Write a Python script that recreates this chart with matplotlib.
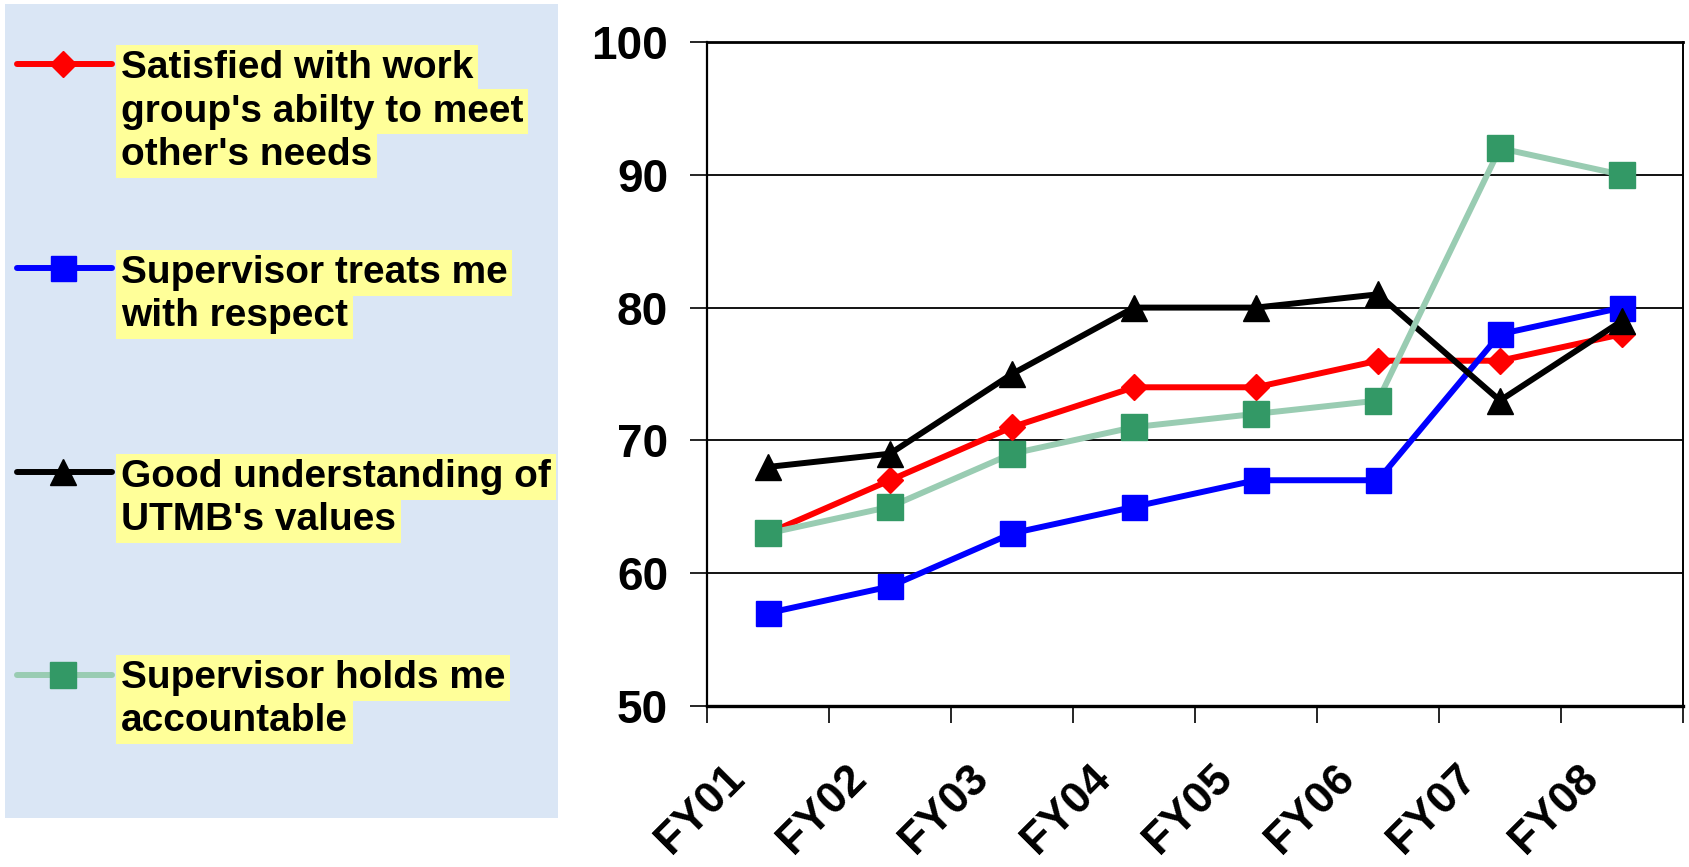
import matplotlib
matplotlib.use("Agg")
import matplotlib.pyplot as plt
from matplotlib.patches import Rectangle
from matplotlib.transforms import ScaledTranslation

plt.rcParams['font.family'] = ['Liberation Sans', 'DejaVu Sans']
plt.rcParams['font.weight'] = 'bold'

# data
years = ["FY01", "FY02", "FY03", "FY04", "FY05", "FY06", "FY07", "FY08"]
satisfied = [63, 67, 71, 74, 74, 76, 76, 78]
respect = [57, 59, 63, 65, 67, 67, 78, 80]
values = [68, 69, 75, 80, 80, 81, 73, 79]
accountable = [63, 65, 69, 71, 72, 73, 92, 90]

labels = [
    ["Satisfied with work", "group's abilty to meet", "other's needs"],
    ["Supervisor treats me", "with respect"],
    ["Good understanding of", "UTMB's values"],
    ["Supervisor holds me", "accountable"],
]

# (series, line colour, marker, marker colour, marker size)
styles = [
    (satisfied, "#FF0000", "D", "#FF0000", 13),
    (respect, "#0000FF", "s", "#0000FF", 18),
    (values, "#000000", "^", "#000000", 19),
    (accountable, "#99CCB2", "s", "#339966", 19),
]

W, H = 1689, 867
fig = plt.figure(figsize=(W / 100, H / 100), dpi=100)

# left panel with the legend (pixel coordinates)
lax = fig.add_axes([0, 0, 1, 1])
lax.set_xlim(0, W)
lax.set_ylim(H, 0)
lax.axis("off")
lax.add_patch(Rectangle((5, 4), 553, 814, facecolor="#DAE6F5", edgecolor="none"))

line_y = [64, 268, 472, 675]
base_y = [[78, 121.5, 165], [283, 326.5], [487, 530], [688, 731]]
for (ser, lc, mk, mc, ms), ly, lines, bys in zip(styles, line_y, labels, base_y):
    lax.plot([17, 112], [ly, ly], color=lc, lw=4.3, solid_capstyle="round")
    lax.plot([63], [ly], marker=mk, color=mc, ms=ms, mec=mc)
    for txt, by in zip(lines, bys):
        lax.text(121, by, txt, fontsize=28, fontweight="bold", ha="left",
                 va="baseline", clip_on=False,
                 bbox=dict(facecolor="#FFFF99", edgecolor="none",
                           boxstyle="square,pad=0.12"))

# main chart
ax = fig.add_axes([707 / W, 1 - 706 / H, (1683 - 707) / W, (706 - 42) / H])
x = list(range(len(years)))
for ser, lc, mk, mc, ms in styles:
    ax.plot(x, ser, color=lc, lw=4.3, marker=mk, ms=ms, mfc=mc, mec=mc,
            zorder=3, clip_on=False)

ax.set_xlim(-0.5, 7.5)
ax.set_ylim(50, 100)
ax.set_yticks(range(50, 101, 10))
ax.yaxis.grid(True, color="black", lw=1.3)
ax.set_axisbelow(True)

ax.spines["top"].set_linewidth(2.0)
ax.spines["right"].set_linewidth(1.4)
ax.spines["bottom"].set_linewidth(2.4)
ax.spines["left"].set_linewidth(1.6)

ax.tick_params(axis="y", direction="out", length=12, width=1.2, pad=16,
               labelsize=33)
ax.set_xticks(x)
ax.set_xticks([i - 0.5 for i in range(len(years) + 1)], minor=True)
ax.tick_params(axis="x", which="minor", direction="out", length=12, width=1.2)
ax.tick_params(axis="x", which="major", length=0, pad=47, labelsize=32)
ax.set_xticklabels(years, rotation=45, ha="right", va="center",
                   rotation_mode="anchor")
for lab in ax.get_xticklabels():
    lab.set_fontweight("bold")
    lab.set_transform(lab.get_transform() + ScaledTranslation(-0.30, 0, fig.dpi_scale_trans))
for lab in ax.get_yticklabels():
    lab.set_fontweight("bold")

fig.savefig("out.png", dpi=100)
